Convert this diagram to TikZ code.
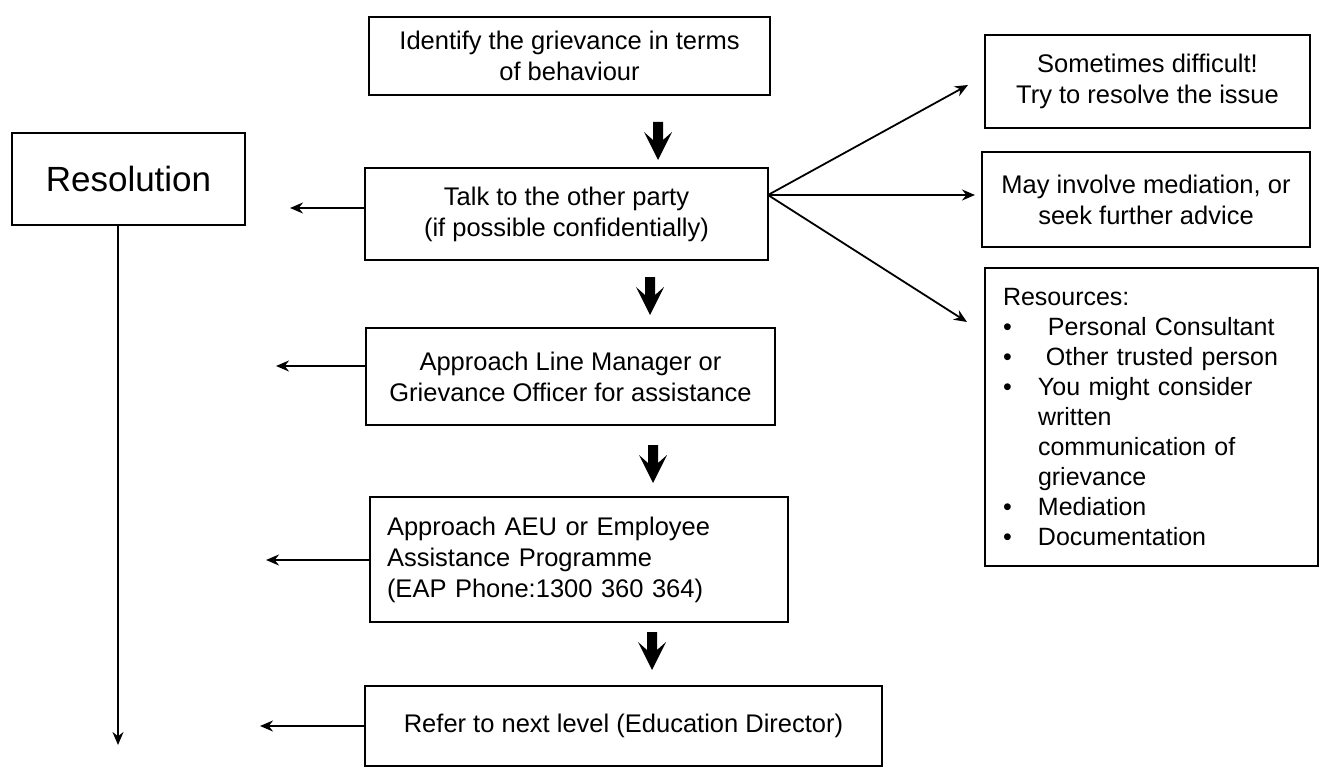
\documentclass[tikz,border=0pt]{standalone}
\usepackage{fontspec}
\setmainfont{Liberation Sans}
\usetikzlibrary{arrows.meta}
\newcommand{\bul}{\makebox[35pt][l]{\textbullet}}
\begin{document}
\begin{tikzpicture}[x=1pt,y=-1pt,
  box/.style={draw, line width=1.8pt, inner sep=0pt, align=center,
              font=\fontsize{25.5}{31}\selectfont},
  arr/.style={line width=1.8pt, -{Stealth[length=13pt,width=11pt]}},
  fatarrow/.pic={\fill (-5,0) -- (5,0) -- (5,18) -- (14,10) -- (0,38) -- (-14,10) -- (-5,18) -- cycle;}]
\useasboundingbox (0,0) rectangle (1330,770);

% main column
\node[box, minimum width=401pt, minimum height=78pt] (ident) at (569.5,56)
  {Identify the grievance in terms\\of behaviour};
\node[box, minimum width=403pt, minimum height=92pt] (talk) at (566.5,214)
  {Talk to the other party\\(if possible confidentially)};
\node[box, minimum width=409pt, minimum height=97pt] (appr) at (570.5,376.5)
  {Approach Line Manager or\\Grievance Officer for assistance};
\node[box, minimum width=418pt, minimum height=125pt, text width=384pt,
      inner xsep=17pt, align=left] (aeu) at (579,559.5)
  {Approach AEU or Employee\\Assistance Programme\\(EAP Phone:1300 360 364)};
\node[box, minimum width=517pt, minimum height=80pt] (refer) at (623.5,726)
  {Refer to next level (Education Director)};

% resolution
\node[box, minimum width=233pt, minimum height=92pt,
      font=\fontsize{35}{40}\selectfont] (res) at (128.5,179) {Resolution};

% right column
\node[box, minimum width=325pt, minimum height=93pt] (some) at (1147.5,81.5)
  {Sometimes difficult!\\Try to resolve the issue};
\node[box, minimum width=328pt, minimum height=95pt] (may) at (1146,199.5)
  {May involve mediation, or\\seek further advice};
\node[box, minimum width=333pt, minimum height=298pt, text width=297pt,
      inner xsep=18pt, align=left, font=\fontsize{25}{30}\selectfont] (resrc) at (1151.5,417)
  {Resources:\\
   \bul\hspace*{10pt}Personal Consultant\\
   \bul\hspace*{8pt}Other trusted person\\
   \bul You might consider\\
   \hspace*{35pt}written\\
   \hspace*{35pt}communication of\\
   \hspace*{35pt}grievance\\
   \bul Mediation\\
   \bul Documentation};

% thick down arrows
\pic at (658,122) {fatarrow};
\pic at (650,277) {fatarrow};
\pic at (653,445) {fatarrow};
\pic at (652,632) {fatarrow};

% left arrows
\coordinate (tl) at (290,208);
\coordinate (al) at (276,366);
\coordinate (el) at (266,560);
\coordinate (rl) at (260,726);
\draw[arr] (tl -| talk.west) -- (tl);
\draw[arr] (al -| appr.west) -- (al);
\draw[arr] (el -| aeu.west) -- (el);
\draw[arr] (rl -| refer.west) -- (rl);

% resolution line
\coordinate (resend) at (118,745);
\draw[arr] (resend |- res.south) -- (resend);

% fan
\coordinate (fan) at (768,195);
\coordinate (fs) at (968,85);
\coordinate (fm) at (975,195);
\coordinate (fr) at (967,322);
\draw[arr] (fan) -- (fs);
\draw[arr] (fan) -- (fm);
\draw[arr] (fan) -- (fr);
\end{tikzpicture}
\end{document}
